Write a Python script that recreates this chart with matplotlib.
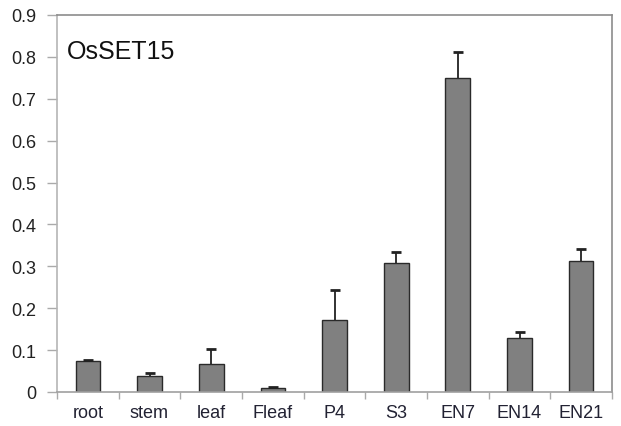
import matplotlib
matplotlib.use("Agg")
import matplotlib.pyplot as plt
import numpy as np

categories = ["root", "stem", "leaf", "Fleaf", "P4", "S3", "EN7", "EN14", "EN21"]
values = [0.074, 0.038, 0.068, 0.010, 0.172, 0.308, 0.749, 0.130, 0.312]
err_upper = [0.003, 0.007, 0.035, 0.002, 0.071, 0.026, 0.063, 0.014, 0.029]
yticks = [0, 0.1, 0.2, 0.3, 0.4, 0.5, 0.6, 0.7, 0.8, 0.9]
ytick_labels = ["0", "0.1", "0.2", "0.3", "0.4", "0.5", "0.6", "0.7", "0.8", "0.9"]

plt.rcParams['font.family'] = ['Liberation Sans', 'DejaVu Sans']

fig = plt.figure(figsize=(6.21, 4.27), dpi=100)
ax = fig.add_axes([57/621, 1-393/427, (612-57)/621, (393-16)/427])

x = np.arange(len(categories))
ax.bar(x, values, width=0.4, color="#808080", edgecolor="#2a2a2a", linewidth=1.0, zorder=2)
eb = ax.errorbar(x, values, yerr=[np.zeros(len(values)), err_upper], fmt="none",
                 ecolor="#222222", elinewidth=1.3, capsize=3.6, capthick=2.0, zorder=3)
# keep only the upper caps
caplines = eb[1]
if len(caplines) >= 2:
    caplines[0].set_visible(False)

ax.set_xlim(-0.5, len(categories) - 0.5)
ax.set_ylim(0, 0.9)
ax.set_yticks(yticks)
ax.set_yticklabels(ytick_labels, fontsize=13, color="#222222")
ax.set_xticks(x)
ax.set_xticklabels(categories, fontsize=13, color="#222233")
ax.set_xticks(np.arange(len(categories) + 1) - 0.5, minor=True)

ax.tick_params(axis="x", which="major", length=0, pad=9)
ax.tick_params(axis="x", which="minor", length=5, color="#aaaaaa", width=1)
ax.tick_params(axis="y", which="major", length=7, color="#aaaaaa", width=1, pad=8)

ax.spines["left"].set_color("#b5b5b5")
ax.spines["bottom"].set_color("#a0a0a0")
ax.spines["top"].set_color("#8c8c8c")
ax.spines["right"].set_color("#8c8c8c")
for s in ax.spines.values():
    s.set_linewidth(1.2)

ax.text(0.018, 0.905, "OsSET15", transform=ax.transAxes, fontsize=18,
        color="#111111", va="center", ha="left")

fig.savefig("out.png", dpi=100)
